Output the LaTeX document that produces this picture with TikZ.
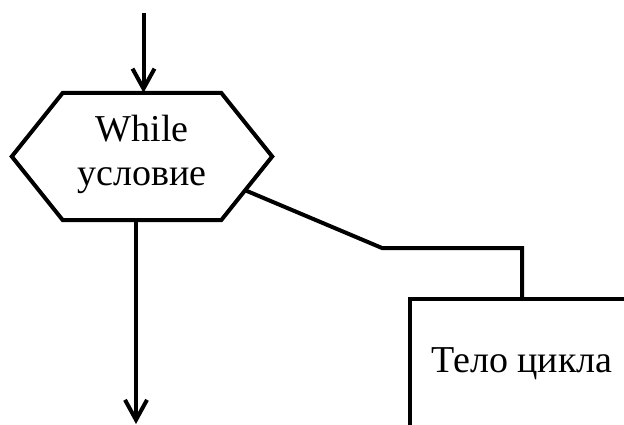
\documentclass[tikz,border=0pt]{standalone}
\usepackage{fontspec}
\setmainfont{Liberation Serif}
\usetikzlibrary{arrows.meta,calc}
\begin{document}
\begin{tikzpicture}[x=1pt,y=-1pt,
  ln/.style={line width=4pt,line join=miter},
  arr/.style={ln,-{Straight Barb[length=20pt,width=22pt,line width=4pt]}},
  txt/.style={font=\fontsize{38}{44}\selectfont,align=center}]
\useasboundingbox (0,0) rectangle (624,425);
\clip (0,0) rectangle (624,425);
\node[minimum width=260pt,minimum height=127pt,inner sep=0pt] (condbox) at (142,156.5) {};
\node[txt] (cond) at (142,154) {While\\условие};
\draw[ln] (condbox.west) -- ([xshift=51pt]condbox.north west) -- ([xshift=-51pt]condbox.north east)
  -- (condbox.east) -- ([xshift=-51pt]condbox.south east) -- ([xshift=51pt]condbox.south west) -- cycle;
\node[ln,draw,txt,minimum width=224pt,minimum height=130pt] (body) at (522,364) {Тело цикла};
\coordinate (in) at (143.5,13);
\coordinate (out) at (136,424);
\coordinate (bend) at (382,248);
\coordinate (start) at ($(condbox.east)!0.53!([xshift=-51pt]condbox.south east)$);
\draw[arr] (in) -- (in |- condbox.north);
\draw[arr] (out |- condbox.south) -- (out);
\draw[ln] (start) -- (bend) -- (bend -| body.north) -- (body.north);
\end{tikzpicture}
\end{document}
